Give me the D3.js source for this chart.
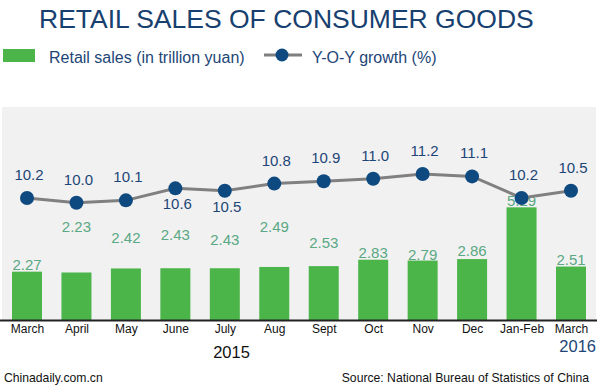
<!DOCTYPE html>
<html>
<head>
<meta charset="utf-8">
<script src="https://cdn.jsdelivr.net/npm/d3@7"></script>
<style>
  body { margin: 0; background: #fff; }
  svg { display: block; font-family: "Liberation Sans", Arial, sans-serif; }
</style>
</head>
<body>
<svg id="chart" width="600" height="387"></svg>
<script>
// chart data
const months = ["March", "April", "May", "June", "July", "Aug", "Sept", "Oct", "Nov", "Dec", "Jan-Feb", "March "];
const retailSales = [2.27, 2.23, 2.42, 2.43, 2.43, 2.49, 2.53, 2.83, 2.79, 2.86, 5.29, 2.51];
const yoyGrowth = [10.2, 10.0, 10.1, 10.6, 10.5, 10.8, 10.9, 11.0, 11.2, 11.1, 10.2, 10.5];
const salesLabels = ["2.27", "2.23", "2.42", "2.43", "2.43", "2.49", "2.53", "2.83", "2.79", "2.86", "5.29", "2.51"];
const growthLabels = ["10.2", "10.0", "10.1", "10.6", "10.5", "10.8", "10.9", "11.0", "11.2", "11.1", "10.2", "10.5"];

// label placement (layout only, not data)
const salesLabelDy = [-2, -41, -25, -28, -23, -35, -18, -2, -1, -3, -1, -2];
const growthBelow = [false, false, false, true, true, false, false, false, false, false, false, false];

const svg = d3.select("#chart");

const plot = { left: 2, right: 596, top: 107, bottom: 320 };

const x = d3.scalePoint().domain(months).range([27, 571]);
const yBar = d3.scaleLinear().domain([0, 10]).range([plot.bottom, plot.top]);
const yLine = d3.scaleLinear().domain([5.1, 14]).range([plot.bottom, plot.top]);
const barWidth = 30;

// title
svg.append("text")
    .attr("x", 39).attr("y", 28)
    .attr("font-size", 26.5)
    .attr("fill", "#17406f")
    .text("RETAIL SALES OF CONSUMER GOODS");

// legend
svg.append("rect")
    .attr("x", 3).attr("y", 49).attr("width", 32).attr("height", 13)
    .attr("fill", "#4cb54a");
svg.append("text")
    .attr("x", 49).attr("y", 62.5)
    .attr("font-size", 16).attr("fill", "#1d4677")
    .text("Retail sales (in trillion yuan)");
svg.append("line")
    .attr("x1", 264).attr("x2", 302).attr("y1", 55).attr("y2", 55)
    .attr("stroke", "#7f7f7f").attr("stroke-width", 3);
svg.append("circle")
    .attr("cx", 282).attr("cy", 55).attr("r", 6.5)
    .attr("fill", "#0e4a80");
svg.append("text")
    .attr("x", 312).attr("y", 62.5)
    .attr("font-size", 16).attr("fill", "#1d4677")
    .text("Y-O-Y growth (%)");

// plot background
svg.append("rect")
    .attr("x", plot.left).attr("y", plot.top)
    .attr("width", plot.right - plot.left).attr("height", plot.bottom - plot.top)
    .attr("fill", "#f1f1f1");

// bars
svg.append("g").selectAll("rect")
    .data(retailSales)
    .join("rect")
    .attr("x", (d, i) => x(months[i]) - barWidth / 2)
    .attr("y", d => yBar(d))
    .attr("width", barWidth)
    .attr("height", d => yBar(0) - yBar(d))
    .attr("fill", "#4cb54a");

// bar labels
svg.append("g").selectAll("text")
    .data(retailSales)
    .join("text")
    .attr("x", (d, i) => x(months[i]))
    .attr("y", (d, i) => yBar(d) + salesLabelDy[i])
    .attr("text-anchor", "middle")
    .attr("font-size", 15)
    .attr("fill", "#5aa884")
    .text((d, i) => salesLabels[i]);

// growth line
const line = d3.line()
    .x((d, i) => x(months[i]))
    .y(d => yLine(d));

svg.append("path")
    .datum(yoyGrowth)
    .attr("d", line)
    .attr("fill", "none")
    .attr("stroke", "#808080")
    .attr("stroke-width", 3);

svg.append("g").selectAll("circle")
    .data(yoyGrowth)
    .join("circle")
    .attr("cx", (d, i) => x(months[i]))
    .attr("cy", d => yLine(d))
    .attr("r", 7)
    .attr("fill", "#0e4a80");

svg.append("g").selectAll("text")
    .data(yoyGrowth)
    .join("text")
    .attr("x", (d, i) => x(months[i]) + 2)
    .attr("y", (d, i) => yLine(d) + (growthBelow[i] ? 21 : -18))
    .attr("text-anchor", "middle")
    .attr("font-size", 15)
    .attr("fill", "#1d4677")
    .text((d, i) => growthLabels[i]);

// x axis
const xAxis = svg.append("g")
    .attr("transform", `translate(0,${plot.bottom})`)
    .call(d3.axisBottom(x).tickSize(0).tickPadding(0));
xAxis.select(".domain").remove();
xAxis.selectAll("text")
    .attr("y", 13)
    .attr("dy", 0)
    .attr("font-size", 12)
    .attr("font-family", "Liberation Sans, Arial, sans-serif")
    .attr("fill", "#111");

svg.append("line")
    .attr("x1", 0).attr("x2", 597)
    .attr("y1", plot.bottom + 0.5).attr("y2", plot.bottom + 0.5)
    .attr("stroke", "#222").attr("stroke-width", 2);

// year labels
svg.append("text")
    .attr("x", 231.5).attr("y", 357.5)
    .attr("text-anchor", "middle")
    .attr("font-size", 16.5).attr("fill", "#111")
    .text("2015");
svg.append("text")
    .attr("x", 596).attr("y", 351.5)
    .attr("text-anchor", "end")
    .attr("font-size", 16.5).attr("fill", "#1d4677")
    .text("2016");

// footer
svg.append("text")
    .attr("x", 4).attr("y", 382)
    .attr("font-size", 12.2).attr("fill", "#111")
    .text("Chinadaily.com.cn");
svg.append("text")
    .attr("x", 589).attr("y", 382)
    .attr("text-anchor", "end")
    .attr("font-size", 12.2).attr("fill", "#111")
    .text("Source: National Bureau of Statistics of China");
</script>
</body>
</html>
